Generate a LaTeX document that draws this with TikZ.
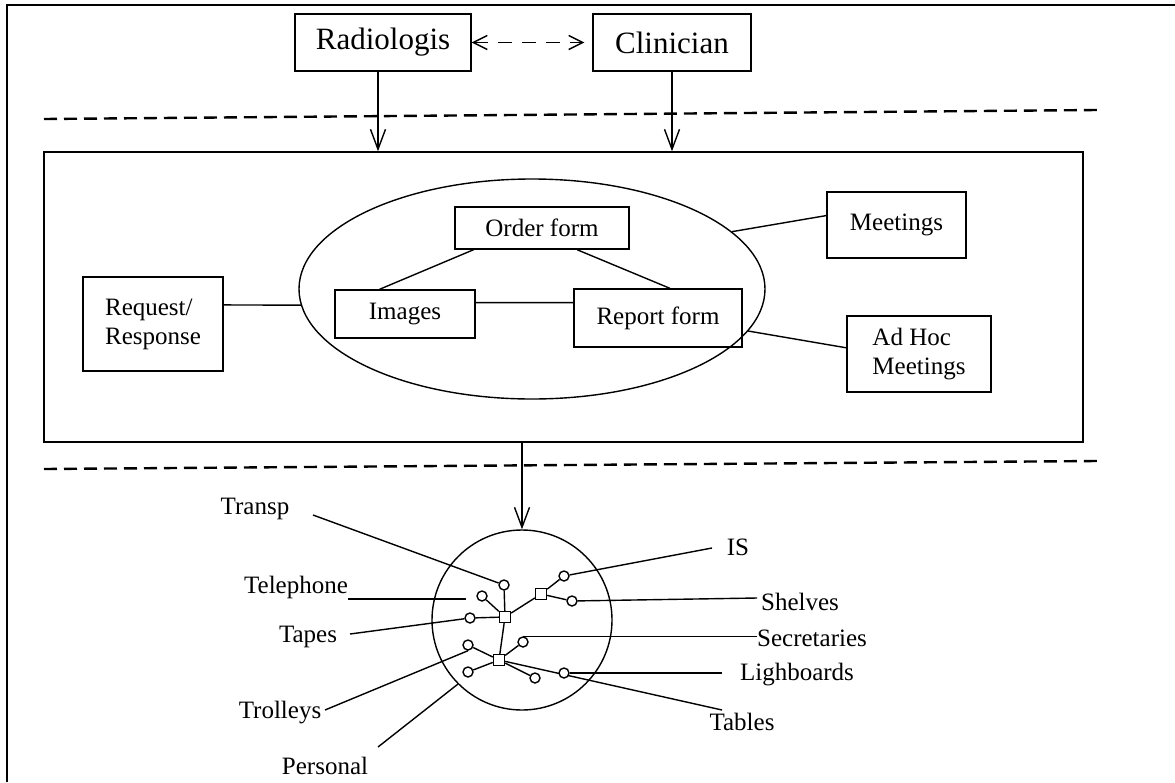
\documentclass[tikz,border=0pt]{standalone}
\usepackage{fontspec}
\setmainfont{Liberation Serif}
\usetikzlibrary{arrows.meta,shapes.geometric,calc}
\begin{document}
\begin{tikzpicture}[x=1pt, y=-1pt, line width=1.4pt,
  topbox/.style={draw, inner sep=0pt, minimum height=57pt, font=\fontsize{31}{35}\selectfont},
  box/.style={draw, inner sep=0pt, align=left, font=\fontsize{25}{29}\selectfont},
  tag/.style={inner sep=0pt, font=\fontsize{25}{29}\selectfont},
  dot/.style={draw, circle, fill=white, minimum size=10pt, inner sep=0pt},
  hub/.style={draw, fill=white, minimum size=11pt, inner sep=0pt},
  down/.style={-{Straight Barb[length=20pt,width=15pt]}},
  layer/.style={line width=2.4pt, dash pattern=on 13pt off 7pt}]
\useasboundingbox (0,0) rectangle (1175,782);
\draw[line width=2.2pt] (7,782) -- (7,5) -- (1175,5);
% actors
\draw (383,42.5) node[topbox, minimum width=176pt] (rad) {Radiologis};
\draw (672,42.5) node[topbox, minimum width=158pt] (cli) {Clinician};
\draw[dash pattern=on 14pt off 10pt, shorten >=8pt, {Straight Barb[length=14pt,width=14pt]}-{Straight Barb[length=14pt,width=14pt]}] (rad.east) -- (cli.west);
\draw[layer] (44,119) -- (1097,110);
\draw[layer] (44,469) -- (1097,461);
% shared space
\draw (563.5,297) node[draw, minimum width=1039pt, minimum height=290pt] (space) {};
\draw[down] ([xshift=-5pt]rad.south) -- ([xshift=-5pt]rad.south |- space.north);
\draw[down] (cli.south) -- (cli.south |- space.north);
\draw (532,289) node[draw, ellipse, minimum width=466pt, minimum height=220pt, inner sep=0pt] (ell) {};
\draw (542,228) node[box, minimum width=174pt, minimum height=42pt] (order) {Order form};
\draw (405,314) node[box, minimum width=140pt, minimum height=48pt] (img) {Images};
\draw (658,318) node[box, minimum width=168pt, minimum height=58pt] (rep) {Report form};
\draw ($(order.south west)!0.11!(order.south east)$) -- ($(img.north west)!0.32!(img.north east)$);
\draw ($(order.south west)!0.70!(order.south east)$) -- ($(rep.north west)!0.57!(rep.north east)$);
\draw ($(img.north east)!0.27!(img.south east)$) -- ($(rep.north west)!0.24!(rep.south west)$);
\draw (153,324) node[box, minimum width=140pt, minimum height=94pt] (req) {Request/\\Response};
\draw ($(req.north east)!0.30!(req.south east)$) -- (ell.184);
\draw (896.5,225) node[box, minimum width=139pt, minimum height=66pt] (meet) {Meetings};
\draw (ell.16) -- ($(meet.north west)!0.36!(meet.south west)$);
\draw (919,354) node[box, minimum width=144pt, minimum height=76pt] (adhoc) {Ad Hoc\\Meetings};
\draw (ell.-11) -- ($(adhoc.north west)!0.42!(adhoc.south west)$);
% resources
\draw (522,620) node[draw, circle, minimum size=180pt, inner sep=0pt] (circ) {};
\draw[down] (space.south -| circ.north) -- (circ.north);
\draw (255,509) node[tag] (transp) {Transp};
\draw (296,587) node[tag] (tel) {Telephone};
\draw (308,637) node[tag] (tapes) {Tapes};
\draw (280,713) node[tag] (trol) {Trolleys};
\draw (325,766) node[tag] (pers) {Personal};
\draw (738,547) node[tag] (is) {IS};
\draw (800,602) node[tag] (shelves) {Shelves};
\draw (812,638) node[tag] (secr) {Secretaries};
\draw (797,675) node[tag] (ligh) {Lighboards};
\draw (742,722) node[tag] (tables) {Tables};
\coordinate (e-transp) at (313,515);
\coordinate (e-tel) at (348,599);
\coordinate (e-tapes) at (350,634);
\coordinate (e-trol) at (325,710);
\coordinate (e-pers) at (378,747);
\coordinate (e-is) at (712,548);
\coordinate (e-shelves) at (757,598);
\coordinate (e-secr) at (757,636);
\coordinate (e-ligh) at (722,673);
\coordinate (e-tables) at (722,710);
\draw (505,617) node[hub] (s1) {};
\draw (s1)++(36,-23) node[hub] (s3) {}; \draw (s1) -- (s3);
\draw (s1)++(-6,43) node[hub] (s2) {}; \draw (s1) -- (s2);
\draw (s1)++(-1,-32) node[dot] (c-transp) {}; \draw (s1) -- (c-transp); \draw (e-transp) -- (c-transp);
\draw (s1)++(-23,-21) node[dot] (c-tel) {}; \draw (s1) -- (c-tel); \draw[shorten >=10pt] (e-tel) -- (e-tel -| c-tel.west);
\draw (s1)++(-35,1) node[dot] (c-tapes) {}; \draw (s1) -- (c-tapes); \draw (e-tapes) -- (c-tapes);
\draw (s3)++(23,-18) node[dot] (c-is) {}; \draw (s3) -- (c-is); \draw (c-is) -- (e-is);
\draw (s3)++(31,7) node[dot] (c-shelves) {}; \draw (s3) -- (c-shelves); \draw (c-shelves) -- (e-shelves);
\draw (s2) -- (e-tables);
\draw (s2)++(24,-18) node[dot] (c-secr) {}; \draw (s2) -- (c-secr); \draw (c-secr.north) -- (c-secr.north -| e-secr);
\draw (s2)++(-31,-15) node[dot] (c-trol) {}; \draw (s2) -- (c-trol); \draw (e-trol) -- (c-trol.south);
\draw (s2)++(-31,12) node[dot] (c-pers) {}; \draw (s2) -- (c-pers);
\draw (s2)++(36,18) node[dot] (c-desk) {}; \draw (s2) -- (c-desk);
\draw (s2)++(65,13) node[dot] (c-ligh) {}; \draw (c-ligh.east) -- (c-ligh.east -| e-ligh);
\draw (e-pers) -- (circ.225);
% \draw (s2)++(10,30) node[dot] (c-extra) {};
\end{tikzpicture}
\end{document}
